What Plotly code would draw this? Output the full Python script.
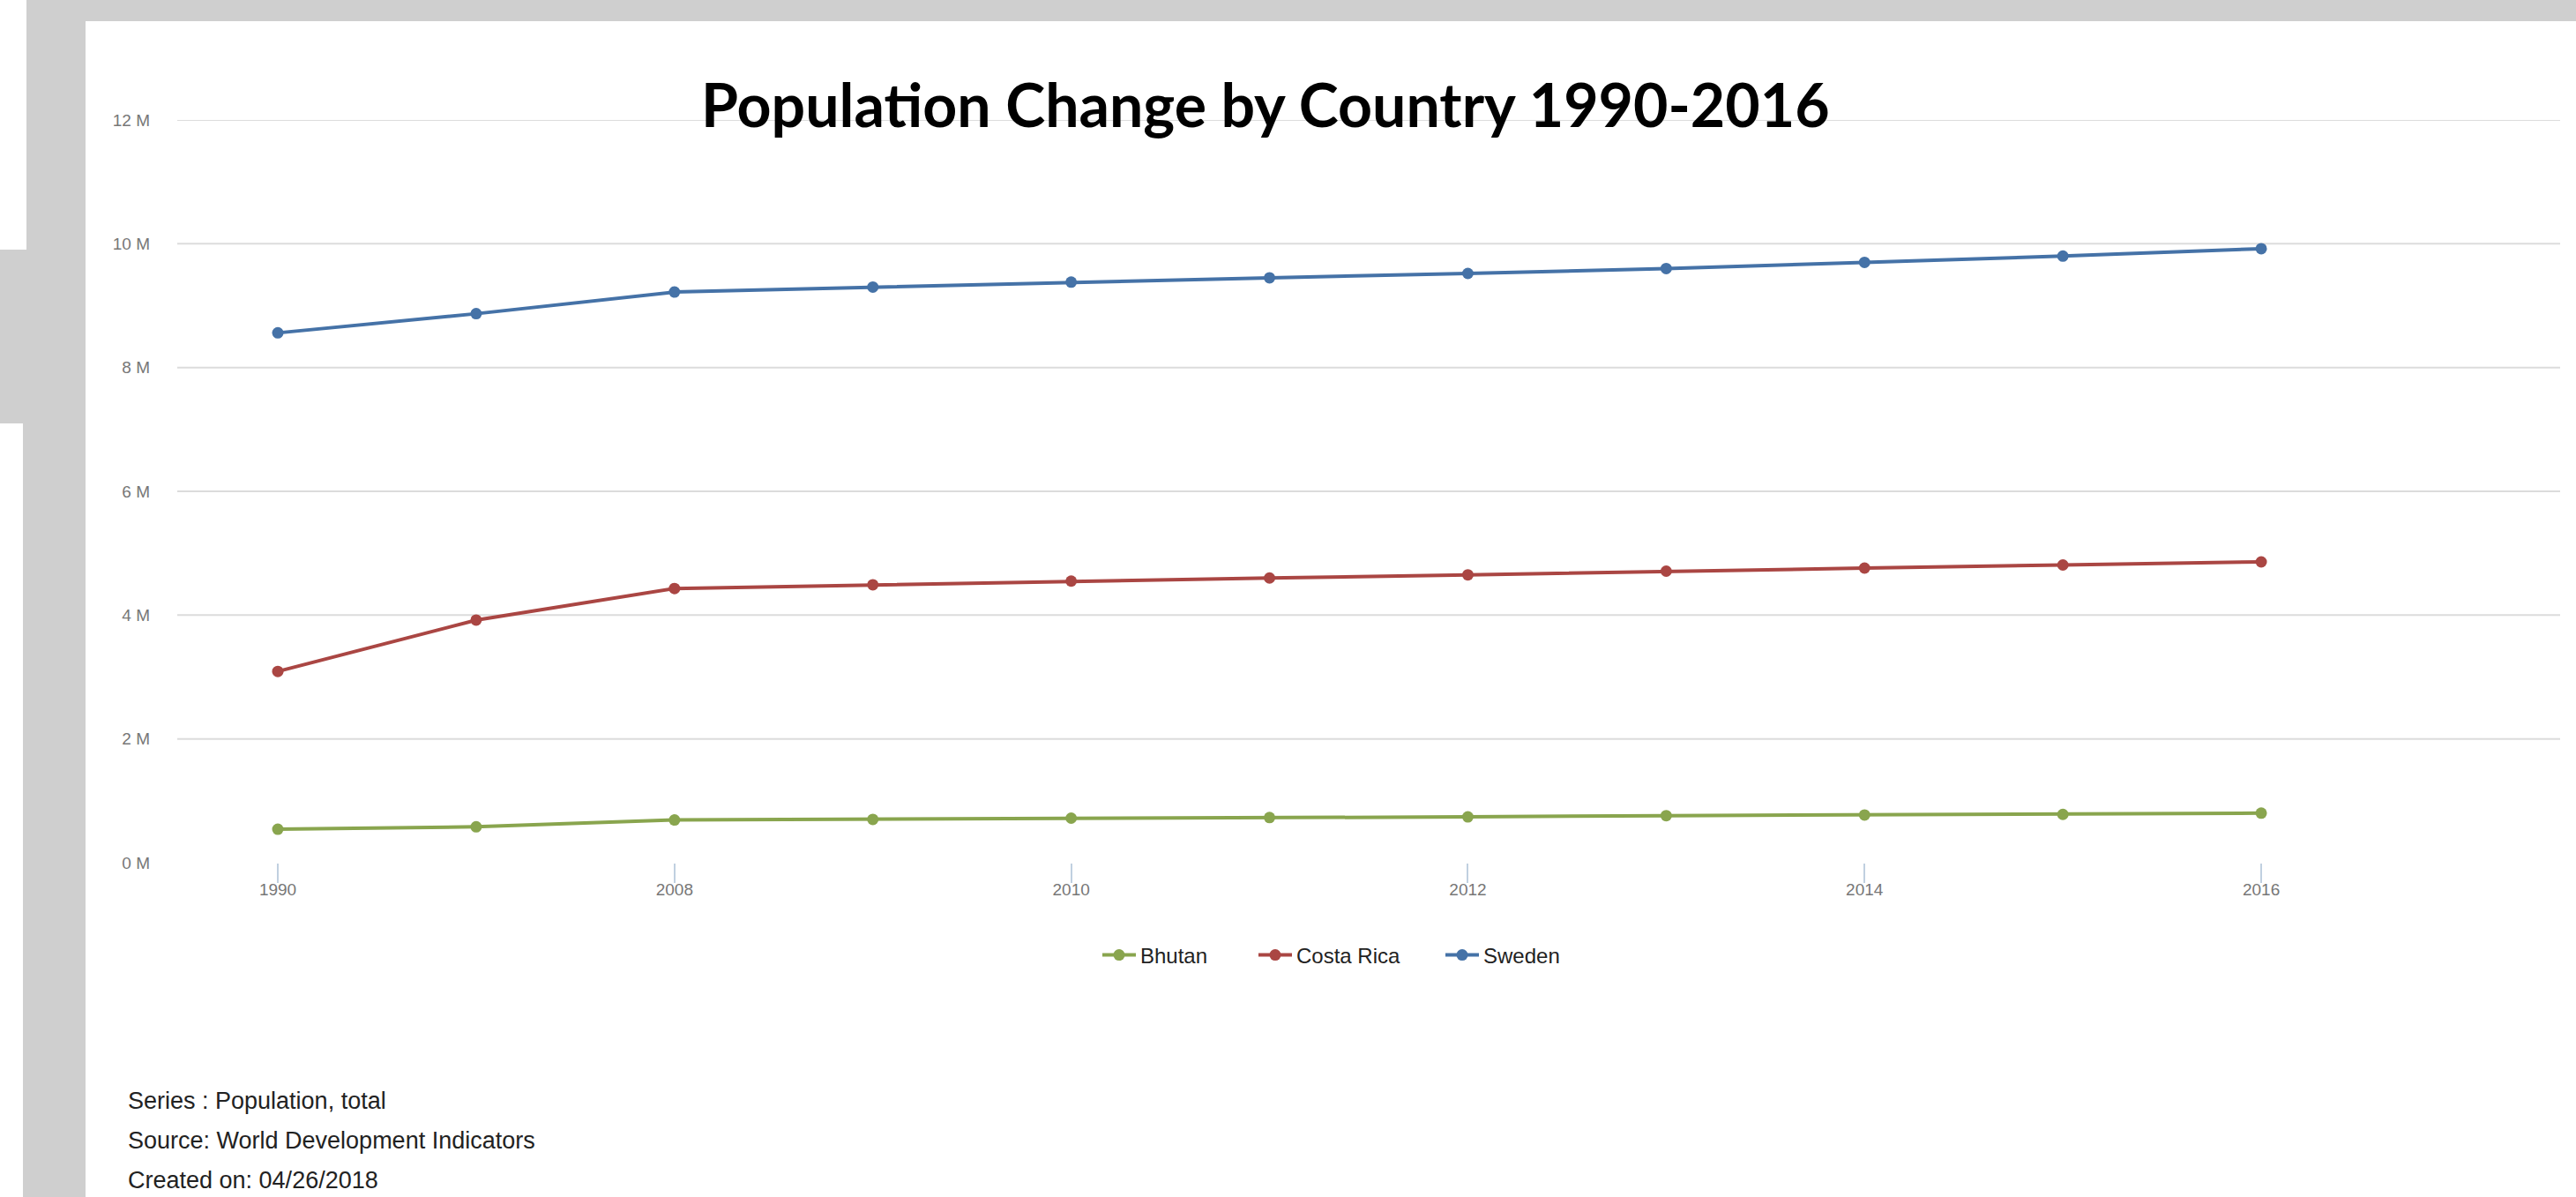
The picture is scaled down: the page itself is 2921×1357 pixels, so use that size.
import plotly.graph_objects as go

# ---- data -------------------------------------------------------------
years = ["1990", "2000", "2008", "2009", "2010", "2011",
         "2012", "2013", "2014", "2015", "2016"]
labeled_years = ["1990", "2008", "2010", "2012", "2014", "2016"]

bhutan = [0.54, 0.58, 0.69, 0.70, 0.72, 0.73, 0.74, 0.76, 0.77, 0.78, 0.80]
costa_rica = [3.09, 3.92, 4.43, 4.49, 4.55, 4.60, 4.65, 4.71, 4.76, 4.81, 4.86]
sweden = [8.56, 8.87, 9.22, 9.30, 9.38, 9.45, 9.52, 9.60, 9.70, 9.80, 9.92]

y_ticks = [0, 2, 4, 6, 8, 10, 12]          # millions
y_tick_text = [f"{v} M" for v in y_ticks]

series = [("Bhutan", bhutan, "#89A54E"),
          ("Costa Rica", costa_rica, "#AA4643"),
          ("Sweden", sweden, "#4572A7")]

footer_lines = ["Series : Population, total",
                "Source: World Development Indicators",
                "Created on: 04/26/2018"]

# ---- page geometry (pixels) -------------------------------------------
W, H = 2921, 1357
PL, PR, PT, PB = 201, 2903, 136, 978


def px(x):
    return (x - PL) / (PR - PL)


def py(y):
    return (PB - y) / (PB - PT)


FRAME = "#cfcfcf"
LEGEND_X = [1245, 1422, 1634]   # left edge of each legend entry
LEGEND_Y = 1083

fig = go.Figure()

legend_ids = ["legend", "legend2", "legend3"]
for (name, vals, color), lid in zip(series, legend_ids):
    fig.add_trace(go.Scatter(
        x=years,
        y=[v * 1e6 for v in vals],
        name=name,
        mode="lines+markers",
        line=dict(color=color, width=4),
        marker=dict(color=color, size=13),
        legend=lid,
    ))

# horizontal grid lines (none on the baseline)
shapes = []
for v in y_ticks[1:]:
    shapes.append(dict(type="line", xref="paper", yref="y",
                       x0=0, x1=1, y0=v * 1e6, y1=v * 1e6,
                       line=dict(color="#dcdcdc", width=2), layer="below"))

# grey page frame around the white card
for x0, x1, y0, y1 in [(30, W, 0, 24), (30, 97, 0, 283),
                       (0, 97, 283, 480), (26, 97, 480, H)]:
    shapes.append(dict(type="rect", xref="paper", yref="paper",
                       x0=px(x0), x1=px(x1), y0=py(y1), y1=py(y0),
                       fillcolor=FRAME, line=dict(width=0), layer="below"))

annotations = [dict(
    text="<b>Population Change by Country 1990-2016</b>",
    xref="paper", yref="paper", x=px(1435), y=py(117),
    xanchor="center", yanchor="middle", showarrow=False,
    font=dict(family="Lato", size=68, color="#000000"),
)]

for i, line in enumerate(footer_lines):
    annotations.append(dict(
        text=line, xref="paper", yref="paper",
        x=px(143), y=py(1248 + 45 * i),
        xanchor="left", yanchor="middle", showarrow=False,
        font=dict(family="Liberation Sans", size=27, color="#222222"),
    ))


def legend_box(x):
    return dict(
        orientation="h", x=px(x), y=py(LEGEND_Y),
        xanchor="left", yanchor="middle", itemwidth=38,
        font=dict(family="Liberation Sans", size=24, color="#222222"),
        bgcolor="rgba(0,0,0,0)",
    )


fig.update_layout(
    width=W, height=H,
    margin=dict(l=PL, r=W - PR, t=PT, b=H - PB, pad=0),
    paper_bgcolor="white", plot_bgcolor="white",
    font=dict(family="Liberation Sans"),
    showlegend=True,
    legend=legend_box(LEGEND_X[0]),
    legend2=legend_box(LEGEND_X[1]),
    legend3=legend_box(LEGEND_X[2]),
    xaxis=dict(
        type="category", categoryorder="array", categoryarray=years,
        range=[-0.507, 11.507],
        tickmode="array", tickvals=labeled_years, ticktext=labeled_years,
        ticks="outside", ticklen=22, tickwidth=2, tickcolor="#C0D0E0",
        ticklabelstandoff=-9,
        showgrid=False, showline=False, zeroline=False,
        tickfont=dict(family="Liberation Sans", size=19, color="#777777"),
    ),
    yaxis=dict(
        range=[0, 12e6],
        tickmode="array", tickvals=[v * 1e6 for v in y_ticks],
        ticktext=y_tick_text, ticks="", ticklabelstandoff=30,
        showgrid=False, showline=False, zeroline=False,
        tickfont=dict(family="Liberation Sans", size=19, color="#777777"),
    ),
    shapes=shapes,
    annotations=annotations,
)

fig.write_html("out.html")
